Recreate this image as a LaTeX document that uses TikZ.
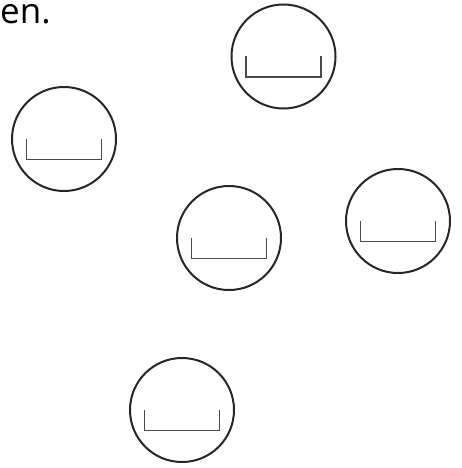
\documentclass[tikz,border=0pt]{standalone}
\usepackage{fontspec}
\setmainfont{Open Sans}
\definecolor{ringcol}{HTML}{262626}
\definecolor{slotcol}{HTML}{4A4A4A}
\tikzset{
  slotline/.style={draw=slotcol, line width=1.2pt},
  ring/.style={circle, draw=ringcol, line width=2pt, minimum size=104pt, inner sep=0pt,
    path picture={\draw[slotline] ([xshift=-37.5pt,yshift=0.5pt]path picture bounding box.center) -- ++(0,-21pt) -- ++(75pt,0) -- ++(0,21pt);}},
  caption/.style={anchor=base west, inner sep=0pt, font=\fontsize{35pt}{40pt}\selectfont, text=black}
}
\begin{document}
\begin{tikzpicture}[x=1pt,y=-1pt]
\useasboundingbox (0,0) rectangle (461,468);
\node[caption] (t) at (0,24) {en.};
\node[ring] (c1) at (283.5,56.5) {};
\node[ring] (c2) at (64,139) {};
\node[ring] (c3) at (229,238) {};
\node[ring] (c4) at (398,221) {};
\node[ring] (c5) at (182,410) {};
\end{tikzpicture}
\end{document}
